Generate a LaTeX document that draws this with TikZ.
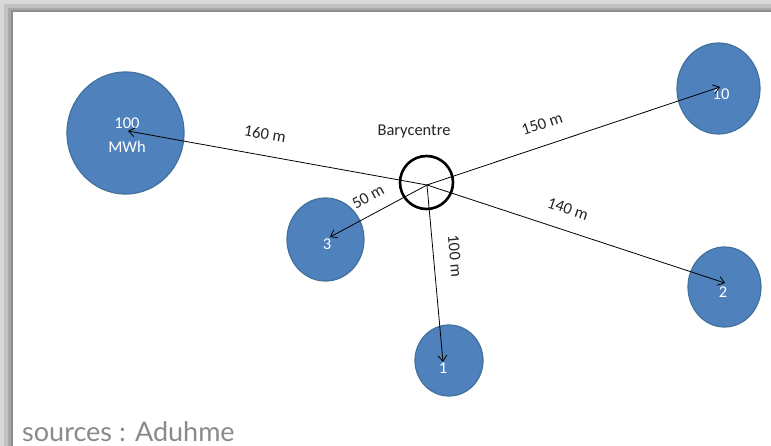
\documentclass[tikz,border=0pt]{standalone}
\usepackage{fontspec}
\setmainfont{Carlito}
\newfontfamily\srcfont{Lato}
\usetikzlibrary{shapes.geometric,arrows.meta}
\definecolor{bubble}{HTML}{4F81BD}
\definecolor{bubbleedge}{HTML}{41719C}
\definecolor{srcgray}{HTML}{8A8A8A}
\tikzset{
  bubble/.style={ellipse, fill=bubble, draw=bubbleedge, line width=1.2pt, inner sep=0pt},
  numtext/.style={text=white, font=\fontsize{16.5}{17}\selectfont, inner sep=0pt, align=center},
  dist/.style={font=\fontsize{16.5}{17}\selectfont, inner sep=0pt, text=black!85},
  link/.style={draw=black, line width=0.8pt, -{Straight Barb[length=6pt,width=9pt]}}
}
\begin{document}
\begin{tikzpicture}[x=1pt,y=-1pt]
\useasboundingbox (0,0) rectangle (771,446);
% frame
\fill[black!15] (0,0) rectangle (771,446);
\fill[black!24] (4,4) rectangle (771,446);
\fill[black!34] (8,8) rectangle (771,446);
\fill[black!45] (11,10) rectangle (771,446);
\fill[white] (13,12) rectangle (771,446);
% bubbles
\node[bubble, minimum width=117pt, minimum height=122pt] (b100) at (125.5,133) {};
\node[bubble, minimum width=83pt, minimum height=91pt] (b10) at (718.5,88.5) {};
\node[bubble, minimum width=73pt, minimum height=80pt] (b2) at (724.5,287) {};
\node[bubble, minimum width=68pt, minimum height=71pt] (b1) at (449,360.5) {};
\node[bubble, minimum width=77pt, minimum height=83pt] (b3) at (325.5,239.5) {};
% texts
\node[numtext] (t100) at (127,123) {100};
\node[numtext] (tmwh) at (127,147) {MWh};
\node[numtext] (t10) at (721,94) {10};
\node[numtext] (t2) at (723,292) {2};
\node[numtext] (t1) at (443,368) {1};
\node[numtext] (t3) at (327,244) {3};
% barycentre
\node[ellipse, draw=black, line width=2.6pt, minimum width=53pt, minimum height=53pt, inner sep=0pt] (bary) at (426.5,182.5) {};
\node[dist] (barylab) at (414,132) {Barycentre};
\coordinate (g) at (427,185);
% arrow ends
\coordinate (e100) at (128,131);
\coordinate (e10) at (720,87);
\coordinate (e2) at (725,283);
\coordinate (e1) at (443,362);
\coordinate (e3) at (330,237);
\draw[link] (g) -- (e100);
\draw[link] (g) -- (e10);
\draw[link] (g) -- (e2);
\draw[link] (g) -- (e1);
\draw[link] (g) -- (e3);
% distances
\node[dist, rotate=-10] (d160) at (265,134) {160 m};
\node[dist, rotate=18] (d150) at (542,124) {150 m};
\node[dist, rotate=-19] (d140) at (568,209) {140 m};
\node[dist, rotate=-85] (d100) at (455,256) {100 m};
\node[dist, rotate=29] (d50) at (368,197) {50 m};
% source
\node[anchor=base west, inner sep=0pt, text=srcgray, font=\srcfont\fontsize{27}{30}\selectfont] (src) at (22,441) {sources : Aduhme};
\end{tikzpicture}
\end{document}
